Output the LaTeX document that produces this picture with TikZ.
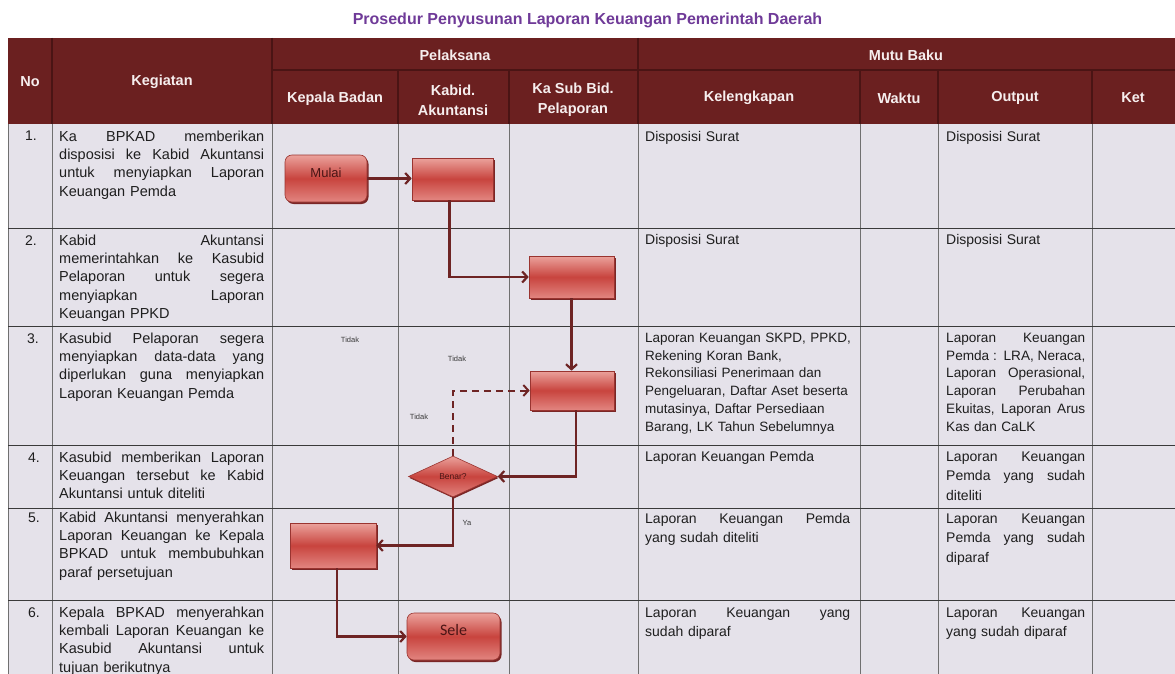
\documentclass[tikz,border=0pt]{standalone}
\usepackage{fontspec}
\setmainfont{Liberation Sans}
\newfontfamily\selefont{Carlito}
\usetikzlibrary{arrows.meta,shapes.geometric,shadows}
\definecolor{hdr}{HTML}{6B2020}
\definecolor{hdrline}{HTML}{4A1414}
\definecolor{hdrtext}{HTML}{F6EEEE}
\definecolor{cellbg}{HTML}{E5E2EA}
\definecolor{gridv}{HTML}{707070}
\definecolor{gridh}{HTML}{3A3A3A}
\definecolor{conn}{HTML}{6E2424}
\definecolor{titlec}{HTML}{6F3A98}
\definecolor{boxtop}{HTML}{EBA29C}
\definecolor{boxmid}{HTML}{C8443E}
\definecolor{boxbot}{HTML}{E28580}
\definecolor{boxedge}{HTML}{9A3430}
\definecolor{shadowc}{HTML}{7A2626}
\definecolor{bodytext}{HTML}{1E1E1E}
\definecolor{shapetext}{HTML}{4A1515}
\newcommand\st{\rule{0pt}{11pt}}
\newcommand\jw[2]{\leavevmode\hbox to #1{\spaceskip=0.28em plus 1fil\relax #2}}
\newcommand\jk[1]{\jw{205pt}{#1}}
\newcommand\jm[1]{\jw{205pt}{#1}}
\newcommand\jo[1]{\jw{139pt}{#1}}
\tikzset{
  kg/.style={anchor=north west, inner sep=0pt, text width=205pt, align=left,
    font=\fontsize{14.5}{18.3}\selectfont, text=bodytext},
  mb/.style={kg, text width=206pt, font=\fontsize{14}{19.5}\selectfont},
  mo/.style={mb, text width=139pt},
  num/.style={anchor=base, inner sep=0pt, font=\fontsize{14}{15}\selectfont, text=bodytext},
  hd/.style={inner sep=0pt, align=center, text=hdrtext,
    font=\bfseries\fontsize{14.5}{20}\selectfont},
  pbox/.style={rectangle, draw=boxedge, line width=0.6pt,
    top color=boxtop, bottom color=boxbot, middle color=boxmid,
    drop shadow={shadow xshift=1.5pt, shadow yshift=-2pt, fill=shadowc, opacity=1},
    inner sep=0pt},
  tbox/.style={pbox, rounded corners=7pt, text=shapetext},
  dia/.style={diamond, draw=boxedge, line width=0.6pt,
    top color=boxtop, bottom color=boxbot, middle color=boxmid,
    drop shadow={shadow xshift=1pt, shadow yshift=-1.5pt, fill=shadowc, opacity=1},
    inner sep=0pt, minimum width=89pt, minimum height=41pt, shape aspect=2.17,
    text=shapetext, font=\fontsize{8.5}{10}\selectfont},
  conn/.style={draw=conn, line width=2.2pt, -{Straight Barb[length=5pt,width=11pt]}},
  lbl/.style={inner sep=0pt, text=gridh, font=\fontsize{7.5}{9}\selectfont},
}
\begin{document}
\begin{tikzpicture}[x=1pt,y=-1pt]
\useasboundingbox (0,0) rectangle (1175,674);
\fill[white] (0,0) rectangle (1175,674);
\begin{scope}
\clip (0,0) rectangle (1175,674);
% table body
\fill[cellbg] (8,124) rectangle (1175,674);
\fill[hdr] (8,38) rectangle (1175,124);
% data grid
\foreach \x in {8,52,272,398,509,638,860,938,1092}
  \draw[gridv, line width=1pt] (\x,124) -- (\x,674);
\foreach \y in {228,326,445,508,600}
  \draw[gridh, line width=1pt] (8,\y) -- (1175,\y);
% header grid
\draw[hdrline, line width=1.3pt] (272,70) -- (1175,70);
\foreach \x in {52,272,638}
  \draw[hdrline, line width=1.3pt] (\x,38) -- (\x,124);
\foreach \x in {398,509,860,938,1092}
  \draw[hdrline, line width=1.3pt] (\x,70) -- (\x,124);
\end{scope}

% title
\node[inner sep=0pt, text=titlec, font=\bfseries\fontsize{16}{18}\selectfont] (title) at (587.5,20)
  {Prosedur Penyusunan Laporan Keuangan Pemerintah Daerah};

% header texts
\node[hd] (hNo) at (30,82) {No};
\node[hd] (hKeg) at (162,82) {Kegiatan};
\node[hd] (hPel) at (455,55) {Pelaksana};
\node[hd] (hMutu) at (906,55) {Mutu Baku};
\node[hd] (hKB) at (335,99) {Kepala Badan};
\node[hd] (hKA) at (453,100) {Kabid.\\Akuntansi};
\node[hd] (hKS) at (573,100) {Ka Sub Bid.\\Pelaporan};
\node[hd] (hKel) at (749,98) {Kelengkapan};
\node[hd] (hWak) at (899,98) {Waktu};
\node[hd] (hOut) at (1015,98) {Output};
\node[hd] (hKet) at (1133,98) {Ket};

% numbers
\node[num] (n1) at (31,141) {1.};
\node[num] (n2) at (31,245) {2.};
\node[num] (n3) at (33,343) {3.};
\node[num] (n4) at (34,462) {4.};
\node[num] (n5) at (34,522) {5.};
\node[num] (n6) at (34,617) {6.};

% kegiatan
\node[kg] (k1) at (59,130) {\st\jk{Ka BPKAD memberikan}\\\jk{disposisi ke Kabid Akuntansi}\\\jk{untuk menyiapkan Laporan}\\Keuangan Pemda};
\node[kg] (k2) at (59,234) {\st\jk{Kabid Akuntansi}\\\jk{memerintahkan ke Kasubid}\\\jk{Pelaporan untuk segera}\\\jk{menyiapkan Laporan}\\Keuangan PPKD};
\node[kg] (k3) at (59,332) {\st\jk{Kasubid Pelaporan segera}\\\jk{menyiapkan data-data yang}\\\jk{diperlukan guna menyiapkan}\\Laporan Keuangan Pemda};
\node[kg] (k4) at (59,451) {\st\jk{Kasubid memberikan Laporan}\\\jk{Keuangan tersebut ke Kabid}\\Akuntansi untuk diteliti};
\node[kg] (k5) at (59,511) {\st\jk{Kabid Akuntansi menyerahkan}\\\jk{Laporan Keuangan ke Kepala}\\\jk{BPKAD untuk membubuhkan}\\paraf persetujuan};
\node[kg] (k6) at (59,606) {\st\jk{Kepala BPKAD menyerahkan}\\\jk{kembali Laporan Keuangan ke}\\\jk{Kasubid Akuntansi untuk}\\tujuan berikutnya};

% kelengkapan
\node[mb] (l1) at (645,130) {\st Disposisi Surat};
\node[mb] (l2) at (645,233) {\st Disposisi Surat};
\node[mb, font=\fontsize{13.5}{17.8}\selectfont] (l3) at (645,331) {\st Laporan Keuangan SKPD, PPKD,\\Rekening Koran Bank,\\Rekonsiliasi Penerimaan dan\\Pengeluaran, Daftar Aset beserta\\mutasinya, Daftar Persediaan\\Barang, LK Tahun Sebelumnya};
\node[mb] (l4) at (645,450) {\st Laporan Keuangan Pemda};
\node[mb] (l5) at (645,512) {\st\jm{Laporan Keuangan Pemda}\\yang sudah diteliti};
\node[mb] (l6) at (645,606) {\st\jm{Laporan Keuangan yang}\\sudah diparaf};

% output
\node[mo] (o1) at (946,130) {\st Disposisi Surat};
\node[mo] (o2) at (946,233) {\st Disposisi Surat};
\node[mo, font=\fontsize{13.6}{17.8}\selectfont] (o3) at (946,331) {\st\jo{Laporan Keuangan}\\\jo{Pemda : LRA, Neraca,}\\\jo{Laporan Operasional,}\\\jo{Laporan Perubahan}\\\jo{Ekuitas, Laporan Arus}\\Kas dan CaLK};
\node[mo] (o4) at (946,450) {\st\jo{Laporan Keuangan}\\\jo{Pemda yang sudah}\\diteliti};
\node[mo] (o5) at (946,512) {\st\jo{Laporan Keuangan}\\\jo{Pemda yang sudah}\\diparaf};
\node[mo] (o6) at (946,606) {\st\jo{Laporan Keuangan}\\yang sudah diparaf};

% flowchart shapes
\node[tbox, minimum width=82pt, minimum height=47pt, text height=9pt, text depth=11pt,
  font=\fontsize{13}{15}\selectfont] (mulai) at (326,178.5) {Mulai};
\node[pbox, minimum width=81pt, minimum height=42pt] (b1) at (452.5,179) {};
\node[pbox, minimum width=85pt, minimum height=42pt] (b2) at (571.5,277) {};
\node[pbox, minimum width=84pt, minimum height=39pt] (b3) at (572,390.5) {};
\node[dia] (dia) at (453,476.5) {Benar?};
\node[pbox, minimum width=86pt, minimum height=45pt] (b5) at (333,545.5) {};
\node[tbox, minimum width=93pt, minimum height=47pt, text height=10pt, text depth=12pt,
  font=\selefont\fontsize{16}{18}\selectfont] (sele) at (453.5,636.5) {Sele};

% labels
\node[lbl] (t1) at (350,340) {Tidak};
\node[lbl] (t2) at (457,359) {Tidak};
\node[lbl] (t3) at (419,417) {Tidak};
\node[lbl] (ya) at (467,523) {Ya};

% connectors
\draw[conn] (mulai.east) -- (mulai.east -| b1.west);
\draw[conn] ([xshift=-3pt]b1.south) |- (b2.west);
\draw[conn] (b2.south) -- (b2.south |- b3.north);
\draw[conn] ([xshift=4pt]b3.south) |- (dia.east);
\draw[conn, line width=2pt, dash pattern=on 7pt off 5pt] (dia.north) |- (b3.west);
\draw[conn] (dia.south) |- (b5.east);
\draw[conn] ([xshift=4pt]b5.south) |- (sele.west);
\end{tikzpicture}
\end{document}
